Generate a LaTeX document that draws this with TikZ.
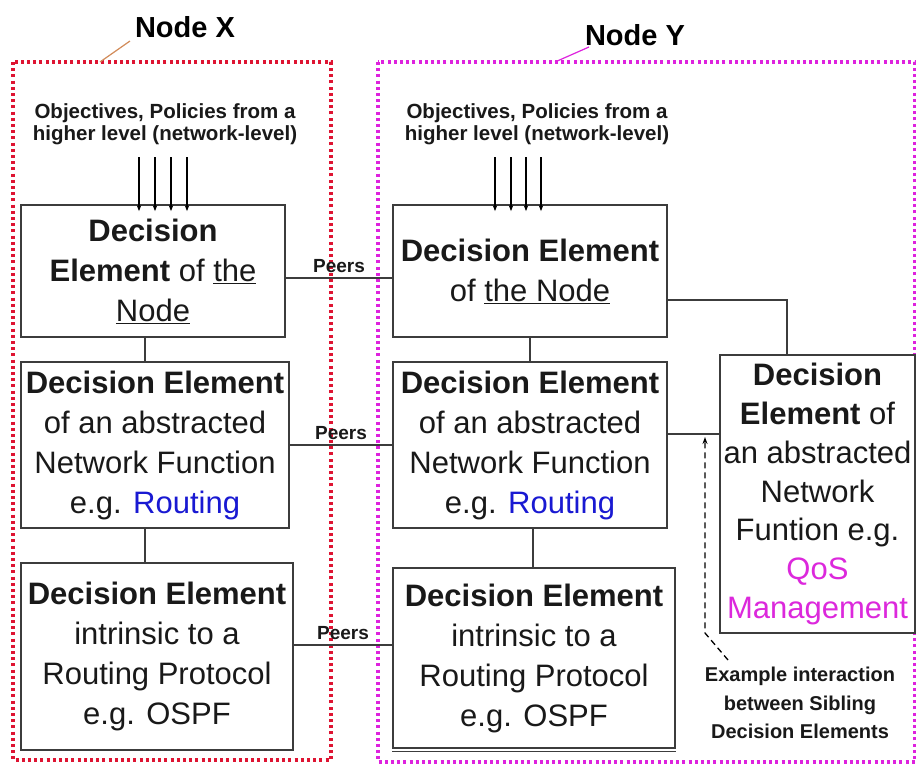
\documentclass[tikz,border=0pt]{standalone}
\usepackage{fontspec}
\setmainfont{Liberation Sans}
\usetikzlibrary{arrows.meta,calc}

\definecolor{boxline}{RGB}{60,60,60}
\definecolor{txt}{RGB}{25,25,25}
\definecolor{redb}{RGB}{222,20,50}
\definecolor{magb}{RGB}{222,34,222}
\definecolor{routeblue}{RGB}{25,25,210}
\definecolor{qosmag}{RGB}{220,40,220}
\definecolor{leaderX}{RGB}{210,140,90}

\tikzset{
  debox/.style={draw=boxline, line width=1.7pt, fill=white, rectangle, inner sep=0pt,
    align=center, text=txt, font=\fontsize{31}{40}\selectfont},
  conn/.style={draw=boxline, line width=1.5pt},
  peerlab/.style={font=\bfseries\fontsize{19}{22}\selectfont, text=txt, inner sep=1pt, above=4pt},
  objlab/.style={font=\bfseries\fontsize{20.5}{22}\selectfont, text=txt, align=center, inner sep=0pt},
  nodelab/.style={font=\bfseries\fontsize{29}{32}\selectfont, text=black, inner sep=0pt},
  exlab/.style={font=\bfseries\fontsize{20}{28.5}\selectfont, text=txt, align=center, inner sep=0pt},
  inarr/.style={draw=black, line width=1.3pt, -{Stealth[length=6pt,width=4.5pt]}},
  sibarr/.style={draw=black, line width=1.3pt, dash pattern=on 6pt off 4pt, -{Stealth[length=7pt,width=5pt]}},
  bound/.style={line width=3.2pt, dash pattern=on 3pt off 3.2pt},
}

\begin{document}
\begin{tikzpicture}[x=1pt,y=-1pt]
\fill[white] (0,0) rectangle (916,764);
\useasboundingbox (0,0) rectangle (916,764);

% node boundaries
\draw[bound, draw=redb] (13,62) rectangle (331,760);
\draw[bound, draw=magb] (378,62) rectangle (915,762);
\coordinate (bx) at (100,62);
\coordinate (by) at (555,62);

% labels of the nodes
\node[nodelab] (nx) at (185,27) {Node X};
\node[nodelab] (ny) at (635,35) {Node Y};
\draw[leaderX, line width=1.2pt] (bx) -- (130,41);
\draw[magb, line width=1.2pt] (by) -- (589,47);

% objectives text
\node[objlab] (obX) at (165,124) {Objectives, Policies from a\\higher level (network-level)};
\node[objlab] (obY) at (537,124) {Objectives, Policies from a\\higher level (network-level)};

% boxes of node X
\node[debox, minimum width=264pt, minimum height=132pt] (X1) at (153,271)
  {{\bfseries Decision}\\{\bfseries Element} of \underline{the}\\\underline{Node}};
\node[debox, minimum width=268pt, minimum height=166pt] (X2) at (155,445)
  {{\bfseries Decision Element}\\of an abstracted\\Network Function\\e.g. \textcolor{routeblue}{Routing}};
\node[debox, minimum width=272pt, minimum height=187pt] (X3) at (157,656.5)
  {{\bfseries Decision Element}\\intrinsic to a\\Routing Protocol\\e.g. OSPF};

% boxes of node Y
\node[debox, minimum width=274pt, minimum height=132pt] (Y1) at (530,271)
  {{\bfseries Decision Element}\\of \underline{the Node}};
\node[debox, minimum width=274pt, minimum height=166pt] (Y2) at (530,445)
  {{\bfseries Decision Element}\\of an abstracted\\Network Function\\e.g. \textcolor{routeblue}{Routing}};
\node[debox, minimum width=282pt, minimum height=180pt] (Y3) at (534,658)
  {{\bfseries Decision Element}\\intrinsic to a\\Routing Protocol\\e.g. OSPF};
\draw[conn] ([yshift=-2.8pt]Y3.south west) -- ([yshift=-2.8pt]Y3.south east);

\node[debox, minimum width=195pt, minimum height=278pt, font=\fontsize{31}{38.8}\selectfont] (Z) at (817.5,494)
  {{\bfseries Decision}\\{\bfseries Element} of\\an abstracted\\Network\\Funtion e.g.\\\textcolor{qosmag}{QoS}\\\textcolor{qosmag}{Management}};

% input arrows
\foreach \dx in {-14,2,18,34}
  \draw[inarr] ([shift={(\dx,-47)}]X1.north) -- ([shift={(\dx,7)}]X1.north);
\foreach \dx in {-35,-19,-4,11}
  \draw[inarr] ([shift={(\dx,-47)}]Y1.north) -- ([shift={(\dx,7)}]Y1.north);

% vertical connectors
\coordinate (c1) at ([xshift=-8pt]X1.south);
\draw[conn] (c1) -- (c1 |- X2.north);
\coordinate (c2) at ([xshift=-10pt]X2.south);
\draw[conn] (c2) -- (c2 |- X3.north);
\draw[conn] (Y1.south) -- (Y2.north);
\coordinate (c3) at ([xshift=3pt]Y2.south);
\draw[conn] (c3) -- (c3 |- Y3.north);

% peers
\coordinate (p1) at ([yshift=-7pt]X1.east);
\draw[conn] (p1) -- node[peerlab] {Peers} (p1 -| Y1.west);
\draw[conn] (X2.east) -- node[peerlab] {Peers} (X2.east -| Y2.west);
\coordinate (p3) at ([yshift=11.5pt]X3.east);
\draw[conn] (p3) -- node[peerlab] {Peers} (p3 -| Y3.west);

% sibling connectors
\coordinate (q) at ([yshift=-29pt]Y1.east);
\coordinate (zq) at ([xshift=-30.5pt]Z.north);
\draw[conn] (q) -| (zq);
\coordinate (r) at ([yshift=11pt]Y2.east);
\draw[conn] (r) -- (r -| Z.west);

% example interaction
\node[exlab] (ex) at (800,703) {Example interaction\\between Sibling\\Decision Elements};
\coordinate (d1) at (728,660);
\coordinate (d2) at (705,633);
\coordinate (d3) at (705,437);
\draw[sibarr] (d1) -- (d2) -- (d3);
\end{tikzpicture}
\end{document}
